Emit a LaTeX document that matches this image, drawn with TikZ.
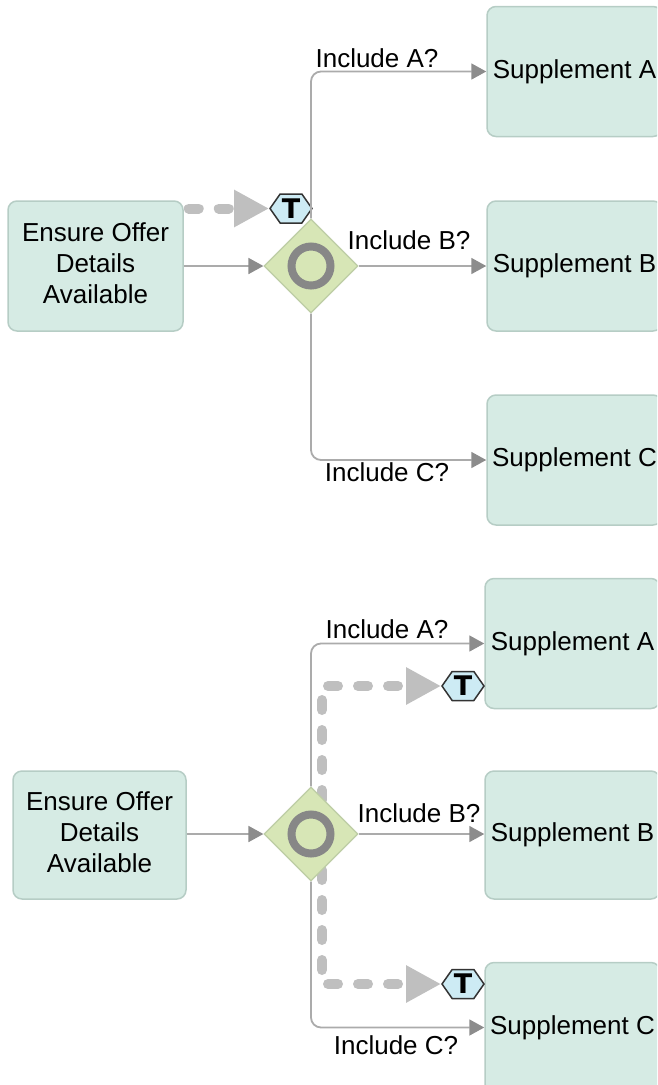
\documentclass[tikz,border=0pt]{standalone}
\usepackage{fontspec}
\setmainfont{Liberation Sans}
\newfontfamily\tokenfont{DejaVu Sans}
\usetikzlibrary{arrows.meta, shapes.geometric, shapes.symbols}
\definecolor{boxfill}{HTML}{D6EBE4}
\definecolor{boxline}{HTML}{B6CDC5}
\definecolor{gatefill}{HTML}{D7E6B6}
\definecolor{gateline}{HTML}{BDCDA5}
\definecolor{hexfill}{HTML}{CDEBF4}
\begin{document}
\begin{tikzpicture}[
        x=1pt, y=-1pt,
        task/.style={draw=boxline, line width=1.5pt, fill=boxfill, rounded corners=9pt, align=center, inner sep=0pt,
                minimum width=175pt, minimum height=130pt, font=\fontsize{26}{31}\selectfont},
        gate/.style={diamond, draw=gateline, line width=1.2pt, fill=gatefill, inner sep=0pt, minimum width=94pt, minimum height=94pt},
        ring/.style={circle, draw=black!47, line width=8pt, fill=gatefill, inner sep=0pt, minimum size=39pt},
        token/.style={signal, signal to=east and west, signal pointer angle=110, draw=black!80, line width=1.5pt, fill=hexfill,
                inner sep=0pt, minimum width=42pt, minimum height=29pt, font=\tokenfont\fontsize{27}{27}\bfseries\selectfont},
        flow/.style={draw=black!33, line width=1.8pt, rounded corners=10pt, -{Triangle[length=15pt, width=16pt, black!45]}},
        route/.style={draw=black!25, line width=10pt, line cap=round, dash pattern=on 10pt off 20pt,
                -{Triangle[length=35pt, width=35pt, black!25, line cap=butt]}},
        kant/.style={inner sep=0pt, font=\fontsize{26}{31}\selectfont},
    ]
    \clip (0,0) rectangle (657,1085);

    % upper fragment
    \node[task] (offerA) at (95.5,266) {Ensure Offer\\Details\\Available\vspace{6pt}};
    \node[task] (suppA1) at (574.5,71.5) {Supplement A\vspace{2pt}};
    \node[task] (suppB1) at (574.5,266) {Supplement B\vspace{2pt}};
    \node[task] (suppC1) at (574.5,460) {Supplement C\vspace{2pt}};
    \node[token] (tokenA) at (291,208.5) {T};
    \coordinate (startA) at ([xshift=5pt]offerA.east |- tokenA);
    \draw[route] (startA) -- (tokenA.west);
    \node[gate] (gateA) at (311,266) {};
    \node[ring] (ringA) at (gateA) {};
    \draw[flow] (offerA.east |- gateA) -- (gateA.west);
    \draw[flow] (gateA.north) |- (suppA1.west);
    \draw[flow] (gateA.east) -- (suppB1.west);
    \draw[flow] (gateA.south) |- (suppC1.west);
    \node[kant] (askA1) at (377,58) {Include A?};
    \node[kant] (askB1) at (409,240) {Include B?};
    \node[kant] (askC1) at (387,472) {Include C?};

    % lower fragment
    \node[task, minimum width=173pt, minimum height=128pt] (offerB) at (99.5,835) {Ensure Offer\\Details\\Available\vspace{6pt}};
    \node[task] (suppA2) at (572.5,643.5) {Supplement A\vspace{2pt}};
    \node[task, minimum height=128pt] (suppB2) at (572.5,835) {Supplement B\vspace{2pt}};
    \node[task] (suppC2) at (572.5,1027.5) {Supplement C\vspace{2pt}};
    \node[token] (tokenB) at (463,686) {T};
    \node[token] (tokenC) at (463,984) {T};
    \coordinate (splitB) at (322,800);
    \coordinate (splitC) at (322,870);
    \draw[route] (splitB) |- (tokenB.west);
    \draw[route] (splitC) |- (tokenC.west);
    \node[gate] (gateB) at (311,834) {};
    \node[ring] (ringB) at (gateB) {};
    \draw[flow] (offerB.east |- gateB) -- (gateB.west);
    \draw[flow] (gateB.north) |- (suppA2.west);
    \draw[flow] (gateB.east) -- (suppB2.west |- gateB);
    \draw[flow] (gateB.south) |- (suppC2.west);
    \node[kant] (askA2) at (387,629) {Include A?};
    \node[kant] (askB2) at (419,813) {Include B?};
    \node[kant] (askC2) at (396,1045) {Include C?};
\end{tikzpicture}
\end{document}
